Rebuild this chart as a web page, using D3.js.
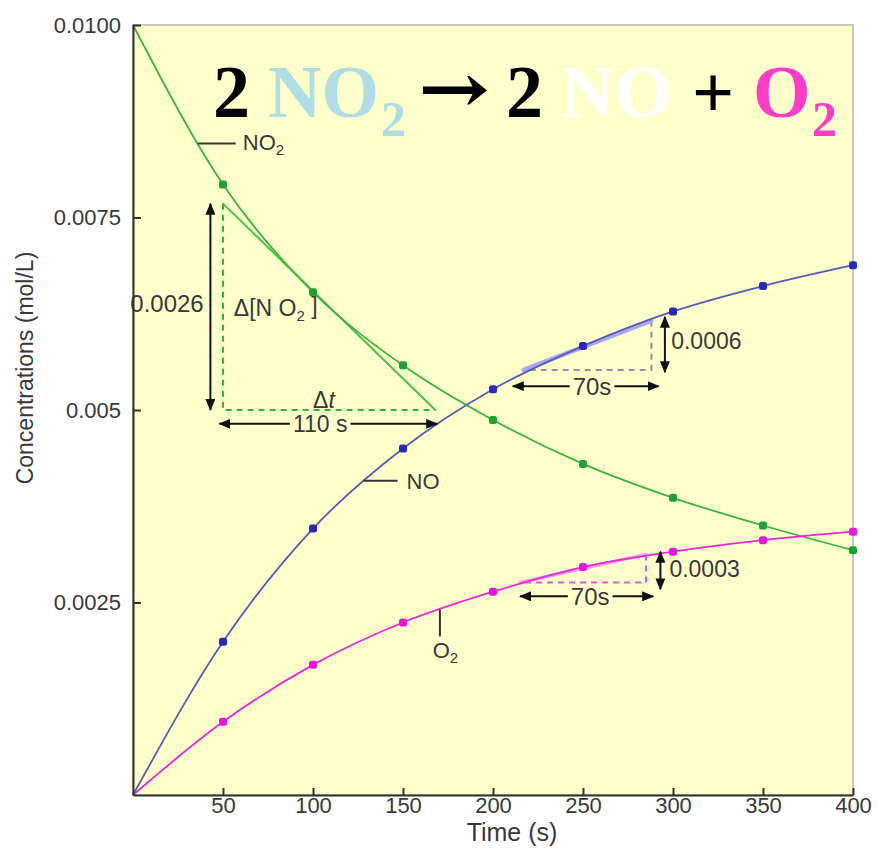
<!DOCTYPE html>
<html>
<head>
<meta charset="utf-8">
<script src="https://cdn.jsdelivr.net/npm/d3@7"></script>
<style>
  html, body { margin: 0; padding: 0; background: #fff; }
  svg text { font-family: "Liberation Sans", Arial, sans-serif; }
  svg text.serif { font-family: "Liberation Serif", "Times New Roman", serif; font-weight: bold; }
  svg text.arrowglyph { font-family: "DejaVu Serif", serif; font-weight: bold; }
</style>
</head>
<body>
<svg id="chart" width="878" height="852"></svg>
<script>
// data
const times = [0, 50, 100, 150, 200, 250, 300, 350, 400];
const no2 = [0.0100, 0.00793, 0.00653, 0.00558, 0.00487, 0.00430, 0.00386, 0.00350, 0.00318];
const no = [0.0, 0.00199, 0.00346, 0.00450, 0.00527, 0.00583, 0.00628, 0.00661, 0.00688];
const o2 = [0.0, 0.00095, 0.00169, 0.00224, 0.00264, 0.00296, 0.00316, 0.00331, 0.00342];
const xTicks = [50, 100, 150, 200, 250, 300, 350, 400];
const yTicks = [0.0025, 0.005, 0.0075, 0.0100];
const yTickLabels = ["0.0025", "0.005", "0.0075", "0.0100"];

// tangents [t0, c0, t1, c1]
const no2Tangent = [50, 0.00768, 168, 0.0050];
const noTangent = [217, 0.00552, 288, 0.00616];
const o2Tangent = [215, 0.00276, 285, 0.003125];

const svg = d3.select("#chart");
const W = 878, H = 852;
const margin = { left: 133, right: 25, top: 25, bottom: 57 };

const x = d3.scaleLinear().domain([0, 400]).range([margin.left, W - margin.right]);
const y = d3.scaleLinear().domain([0, 0.01]).range([H - margin.bottom, margin.top]);

const bg = "#ffffcc";
const textCol = "#383838";

// plot background + light frame
svg.append("rect")
  .attr("x", x(0)).attr("y", y(0.01))
  .attr("width", x(400) - x(0)).attr("height", y(0) - y(0.01))
  .attr("fill", bg).attr("stroke", "#c8c8c0").attr("stroke-width", 2);

// arrow heads
const defs = svg.append("defs");
defs.append("marker")
  .attr("id", "ah").attr("viewBox", "0 0 12 10")
  .attr("refX", 11).attr("refY", 5)
  .attr("markerWidth", 12).attr("markerHeight", 10)
  .attr("markerUnits", "userSpaceOnUse")
  .attr("orient", "auto-start-reverse")
  .append("path").attr("d", "M0,0 L12,5 L0,10 Z").attr("fill", "#111");

// title
const tParts = [
  { s: "2", x: 213, col: "#000", size: 74, dy: 0 },
  { s: "NO", x: 268, col: "#b0dce4", size: 74, dy: 0 },
  { s: "2", x: 381, col: "#b0dce4", size: 50, dy: 19 },
  { s: "\u2192", x: 418, col: "#000", size: 70, dy: -4, len: 72 },
  { s: "2", x: 506, col: "#000", size: 74, dy: 0 },
  { s: "NO", x: 561, col: "#fff", size: 74, dy: 0 },
  { s: "+", x: 692, col: "#000", size: 74, dy: 0 },
  { s: "O", x: 753, col: "#ff3cc8", size: 74, dy: 0 },
  { s: "2", x: 812, col: "#ff3cc8", size: 50, dy: 19 }
];
tParts.forEach(p => {
  const t = svg.append("text").attr("x", p.x).attr("y", 117 + p.dy)
    .attr("class", p.s === "\u2192" ? "arrowglyph" : "serif")
    .attr("fill", p.col).attr("font-size", p.size)
    .text(p.s);
  if (p.len) t.attr("textLength", p.len).attr("lengthAdjust", "spacingAndGlyphs");
});

const line = d3.line()
  .x(d => x(d[0])).y(d => y(d[1]))
  .curve(d3.curveMonotoneX);

const series = [
  { vals: no2, line: "#3cb43c", dot: "#1ea032" },
  { vals: no, line: "#5a5ab4", dot: "#2828c0" },
  { vals: o2, line: "#e628d2", dot: "#e614dc" }
];

// tangents and dashed triangles
function tangent(tg, col, width, dashCol) {
  const [t0, c0, t1, c1] = tg;
  const isDown = c1 < c0;
  const cornerT = isDown ? t0 : t1;
  const cornerC = isDown ? c1 : c0;
  svg.append("path")
    .attr("d", `M${x(isDown ? t0 : t1)},${y(isDown ? c0 : c1)} L${x(cornerT)},${y(cornerC)} L${x(isDown ? t1 : t0)},${y(isDown ? c1 : c0)}`)
    .attr("fill", "none").attr("stroke", dashCol).attr("stroke-width", 2)
    .attr("stroke-dasharray", "6,5");
  svg.append("line")
    .attr("x1", x(t0)).attr("y1", y(c0)).attr("x2", x(t1)).attr("y2", y(c1))
    .attr("stroke", col).attr("stroke-width", width).attr("stroke-linecap", "round");
}
tangent(no2Tangent, "#4cc04c", 2, "#34b434");
tangent(noTangent, "#a8a8ec", 4.5, "#9090a8");
tangent(o2Tangent, "#f4a0ec", 3.5, "#e850d8");

series.forEach(s => {
  const pts = times.map((t, i) => [t, s.vals[i]]);
  svg.append("path").datum(pts)
    .attr("d", line).attr("fill", "none")
    .attr("stroke", s.line).attr("stroke-width", 1.8);
  svg.selectAll(null).data(pts.slice(1)).enter().append("rect")
    .attr("x", d => x(d[0]) - 4).attr("y", d => y(d[1]) - 4)
    .attr("width", 8).attr("height", 8).attr("rx", 2.5)
    .attr("fill", s.dot);
});

// arrows
function arrow(t0, c0, t1, c1) {
  svg.append("line")
    .attr("x1", x(t0)).attr("y1", y(c0)).attr("x2", x(t1)).attr("y2", y(c1))
    .attr("stroke", "#111").attr("stroke-width", 2)
    .attr("marker-start", "url(#ah)").attr("marker-end", "url(#ah)");
}
function label(t, c, str, anchor, size, withBg) {
  const g = svg.append("g");
  const tx = g.append("text").attr("x", x(t)).attr("y", y(c))
    .attr("dy", "0.35em").attr("text-anchor", anchor || "start")
    .attr("font-size", size || 22).attr("fill", textCol).text(str);
  if (withBg) {
    const b = tx.node().getBBox();
    g.insert("rect", "text").attr("x", b.x - 3).attr("y", b.y + 3)
      .attr("width", b.width + 6).attr("height", b.height - 6).attr("fill", bg);
  }
  return tx;
}

// NO2 rate annotation
arrow(43, 0.00768, 43, 0.0050);
label(-1.5, 0.00638, "0.0026", "start", 24);
const dn = label(56, 0.00632, "\u0394[N O", "start", 23);
dn.append("tspan").attr("font-size", 15).attr("dy", "0.3em").text("2");
dn.append("tspan").attr("dy", "-0.3em").text(" ]");
const dt = label(100, 0.00513, "\u0394", "start", 23);
dt.append("tspan").attr("font-style", "italic").text("t");
arrow(48, 0.00482, 169, 0.00482);
label(104, 0.00482, "110 s", "middle", 23, true);

// NO rate annotation
arrow(295.5, 0.00621, 295.5, 0.00549);
label(299, 0.00590, "0.0006", "start", 23);
arrow(211, 0.00531, 292, 0.00531);
label(255, 0.00531, "70s", "middle", 24, true);

// O2 rate annotation
arrow(293, 0.00316, 293, 0.00267);
label(298, 0.00293, "0.0003", "start", 23);
arrow(215, 0.00258, 289, 0.00258);
label(254, 0.00258, "70s", "middle", 24, true);

// series labels with pointer lines
function pointer(t0, c0, t1, c1) {
  svg.append("line")
    .attr("x1", x(t0)).attr("y1", y(c0)).attr("x2", x(t1)).attr("y2", y(c1))
    .attr("stroke", "#333").attr("stroke-width", 2);
}
pointer(36, 0.00846, 57, 0.00846);
const l1 = label(61, 0.00848, "NO", "start", 22);
l1.append("tspan").attr("font-size", 15).attr("dy", "0.35em").text("2");
pointer(128, 0.00408, 147, 0.00408);
label(152, 0.00408, "NO", "start", 22);
pointer(170.5, 0.00241, 170.5, 0.00206);
const l3 = label(166.5, 0.00188, "O", "start", 22);
l3.append("tspan").attr("font-size", 15).attr("dy", "0.35em").text("2");

// axes
const xAxis = svg.append("g").attr("transform", `translate(0,${y(0)})`)
  .call(d3.axisBottom(x).tickValues(xTicks).tickSizeInner(-7).tickSizeOuter(0).tickPadding(2));
const yAxis = svg.append("g").attr("transform", `translate(${x(0)},0)`)
  .call(d3.axisLeft(y).tickValues(yTicks).tickFormat((d, i) => yTickLabels[i])
    .tickSizeInner(-8).tickSizeOuter(0).tickPadding(12));
[xAxis, yAxis].forEach(a => {
  a.select(".domain").attr("stroke", "#333322").attr("stroke-width", 2);
  a.selectAll(".tick line").attr("stroke", "#333322").attr("stroke-width", 2);
  a.selectAll(".tick text").attr("font-size", 22).attr("fill", textCol)
    .style("font-family", '"Liberation Sans", Arial, sans-serif');
});

svg.append("text").attr("x", 512).attr("y", 841).attr("text-anchor", "middle")
  .attr("font-size", 25).attr("fill", textCol).text("Time (s)");
svg.append("text").attr("transform", "translate(33,368) rotate(-90)")
  .attr("text-anchor", "middle").attr("font-size", 23).attr("fill", textCol)
  .text("Concentrations (mol/L)");
</script>
</body>
</html>
